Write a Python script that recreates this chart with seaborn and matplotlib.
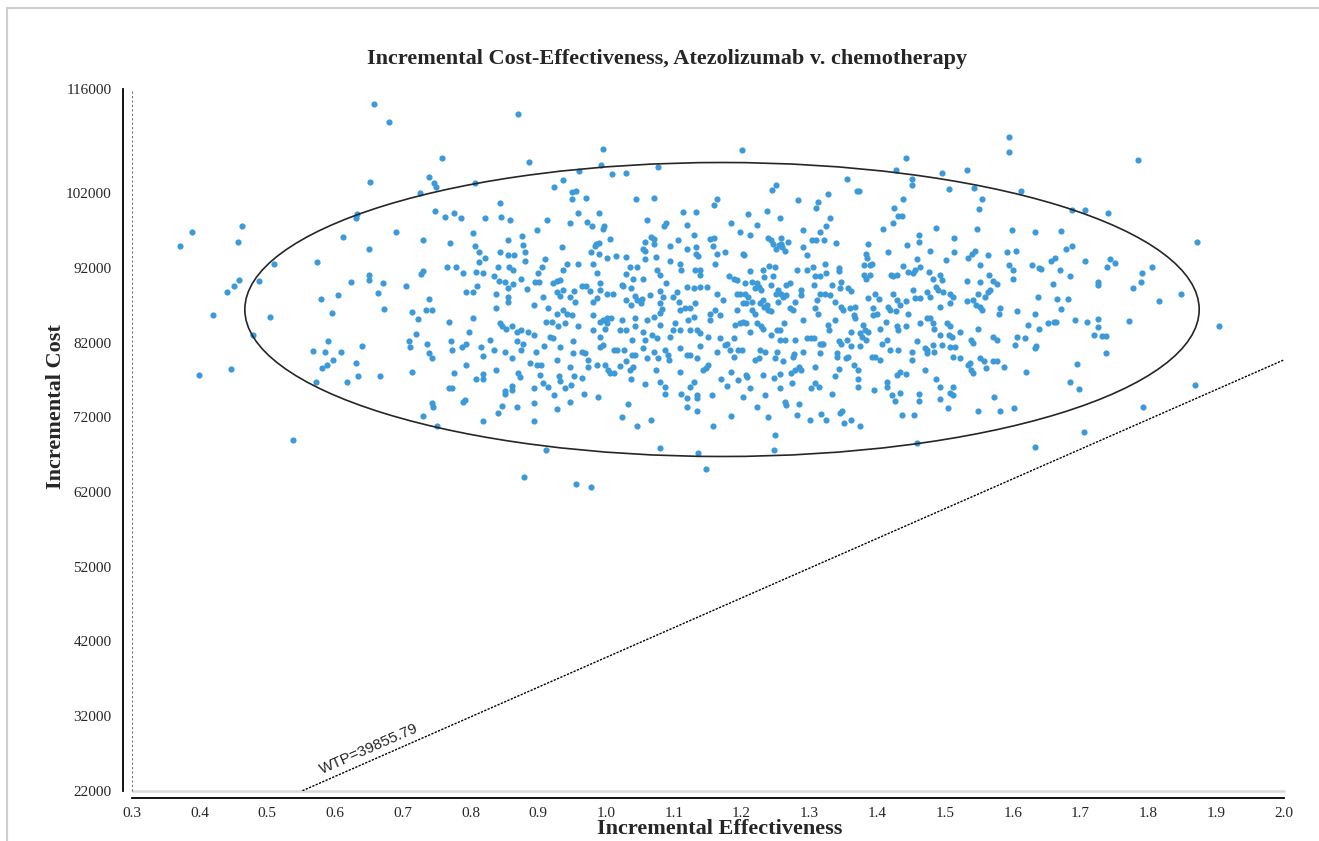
import numpy as np
import pandas as pd
import matplotlib
matplotlib.use('Agg')
import matplotlib.pyplot as plt
from matplotlib.patches import Ellipse
from matplotlib.lines import Line2D
import seaborn as sns

# simulated ICERs: (incremental effectiveness, incremental cost)
pts_left = [
    (0.658, 114000), (0.680, 111600), (0.758, 106700), (0.652, 103500), (0.738, 104200), (0.746, 103400),
    (0.749, 102900), (0.725, 102000), (0.632, 99300), (0.631, 98700), (0.747, 99700), (0.763, 98900),
    (0.776, 99400), (0.389, 96800), (0.463, 97700), (0.457, 95500), (0.371, 95000), (0.612, 96200),
    (0.690, 96900), (0.730, 95800), (0.770, 95400), (0.650, 94500), (0.510, 92600), (0.573, 92800),
    (0.766, 92200), (0.779, 92200), (0.459, 90400), (0.451, 89600), (0.440, 88800), (0.488, 90300),
    (0.420, 85700), (0.504, 85400), (0.479, 83000), (0.446, 78500), (0.400, 77700), (0.538, 69000),
    (0.650, 91100), (0.650, 90400), (0.623, 90100), (0.671, 90000), (0.663, 88700), (0.604, 88400),
    (0.580, 87800), (0.596, 86000), (0.672, 86500), (0.705, 89600), (0.727, 91200), (0.730, 91600),
    (0.738, 87900), (0.734, 86400), (0.743, 86400), (0.713, 86100), (0.723, 85200), (0.768, 84800),
    (0.720, 83200), (0.590, 82200), (0.567, 80900), (0.586, 80800), (0.609, 80800), (0.640, 81600),
    (0.709, 82200), (0.710, 81400), (0.736, 81900), (0.771, 82200), (0.773, 81000), (0.739, 80600),
    (0.743, 79900), (0.597, 79700), (0.588, 79000), (0.581, 78600), (0.631, 79300), (0.634, 77600),
    (0.666, 77600), (0.714, 78100), (0.776, 78000), (0.572, 76800), (0.617, 76700), (0.768, 75900),
    (0.773, 75900), (0.743, 73900), (0.744, 73400), (0.730, 72200), (0.751, 70800),
]

pts_upper_mid = [
    (0.870, 112700), (0.886, 106200), (0.996, 108000), (1.201, 107800), (0.960, 105000), (0.993, 105800),
    (1.008, 104600), (1.030, 104800), (1.076, 105600), (0.923, 102900), (0.937, 103800), (0.950, 102200),
    (0.955, 102400), (0.949, 101300), (0.971, 101400), (0.843, 100700), (1.044, 101200), (1.071, 101400),
    (1.159, 100400), (1.164, 101200), (0.821, 98700), (0.845, 98800), (0.858, 98500), (0.913, 98500),
    (0.958, 99400), (0.947, 98100), (0.972, 98200), (0.979, 97600), (0.990, 99400), (0.997, 97600),
    (0.995, 97200), (1.060, 98500), (1.113, 99500), (1.132, 99500), (1.088, 98100), (1.085, 97600),
    (1.119, 97800), (1.184, 98000), (0.876, 96300), (0.898, 97100), (0.856, 95800), (0.813, 94100),
    (0.821, 93400), (0.813, 92800), (0.843, 94100), (0.856, 93800), (0.864, 93800), (0.878, 95100),
    (0.880, 94100), (0.935, 94800), (0.983, 94900), (0.985, 95200), (0.990, 95400), (0.977, 94100),
    (0.990, 93900), (1.006, 95900), (1.001, 93400), (1.014, 93600), (1.058, 95500), (1.054, 94500),
    (1.058, 94300), (1.066, 96200), (1.071, 95900), (1.071, 95200), (1.095, 94900), (1.106, 95800),
    (1.130, 96500), (1.153, 95900), (1.159, 96100), (1.119, 94500), (1.133, 94800), (1.133, 93900),
    (1.135, 93600), (1.157, 94900), (1.164, 93900), (1.176, 94200), (1.197, 96800), (1.029, 93500),
    (1.073, 93500), (1.057, 93200), (0.910, 93200), (0.803, 96700), (0.807, 103400), (0.807, 95000),
    (0.786, 98700),
]

pts_mid_a = [
    (0.789, 91300), (0.808, 91500), (0.818, 91400), (0.840, 92200), (0.857, 92100), (0.863, 91800),
    (0.875, 90600), (0.881, 92900), (0.899, 91300), (0.905, 92100), (0.943, 92600), (0.958, 92600),
    (0.937, 91800), (0.932, 90400), (0.927, 90300), (0.980, 92500), (0.986, 91300), (0.991, 90000),
    (1.029, 91200), (1.035, 92100), (1.045, 92100), (1.040, 90600), (1.055, 90600), (1.075, 91800),
    (1.080, 91100), (1.089, 90000), (1.095, 92900), (1.109, 92600), (1.111, 91800), (1.131, 91800),
    (1.139, 91800), (1.138, 91100), (1.161, 92600), (1.182, 90900), (1.188, 90600), (1.193, 90400),
    (0.794, 88800), (0.803, 88800), (0.809, 89600), (0.834, 90900), (0.842, 90300), (0.851, 90100),
    (0.856, 89300), (0.863, 89900), (0.883, 89200), (0.895, 90200), (0.901, 90200), (0.907, 88200),
    (0.921, 90000), (0.927, 88800), (0.937, 89100), (0.932, 88300), (0.952, 89000), (0.947, 88200),
    (0.964, 89600), (0.970, 89600), (0.976, 89000), (0.991, 89100), (1.001, 88500), (1.010, 88500),
    (1.023, 89700), (1.025, 89600), (1.036, 89300), (1.043, 88300), (1.053, 87800), (1.065, 88400),
    (1.080, 89000), (1.084, 88200), (1.099, 88200), (1.104, 88800), (1.119, 89500), (1.129, 89300),
    (1.139, 89500), (1.149, 89500), (1.163, 88600), (1.173, 87700), (1.193, 88600),
]

pts_mid_b = [
    (0.838, 88500), (0.856, 88200), (0.856, 87500), (0.838, 86600), (0.893, 87100), (0.915, 86600),
    (0.927, 85900), (0.937, 86400), (0.942, 85900), (0.954, 87500), (0.949, 85700), (0.981, 87400),
    (0.980, 85700), (0.986, 88000), (0.996, 85100), (1.001, 85300), (0.991, 84800), (1.007, 85300),
    (1.023, 85100), (1.030, 87700), (1.037, 87100), (1.045, 87700), (1.043, 85300), (1.052, 87300),
    (1.060, 85100), (1.070, 85500), (1.080, 87300), (1.082, 86500), (1.080, 86000), (1.107, 87500),
    (1.109, 86400), (1.116, 86600), (1.124, 86600), (1.131, 87300), (1.121, 85100), (1.129, 85500),
    (1.153, 85900), (1.161, 86400), (1.168, 85700), (1.153, 85100), (1.193, 86400), (1.190, 84400),
    (0.804, 85300), (0.843, 84600), (0.846, 84300), (0.853, 83900), (0.861, 84200), (0.868, 83500),
    (0.875, 83700), (0.885, 83500), (0.893, 83000), (0.912, 84800), (0.920, 84800), (0.929, 84200),
    (0.939, 84600), (0.959, 84200), (0.981, 83700), (0.991, 82800), (0.998, 83900), (1.001, 84600),
    (0.991, 81500), (0.996, 81700), (1.020, 83700), (1.030, 83700), (1.043, 84200), (1.038, 82400),
    (1.054, 83500), (1.057, 82400), (1.067, 83000), (1.075, 82600), (1.080, 84400), (1.099, 83700),
    (1.102, 84600), (1.094, 82800), (1.109, 83700), (1.124, 83700), (1.134, 83700), (1.138, 83300),
    (1.151, 82800), (1.168, 82600), (1.178, 81900), (1.188, 82600),
]

pts_mid_c = [
    (0.787, 81500), (0.794, 81900), (0.798, 83400), (0.815, 81500), (0.818, 80200), (0.828, 82400),
    (0.835, 81100), (0.851, 80800), (0.861, 79900), (0.868, 82200), (0.874, 81000), (0.878, 81900),
    (0.888, 79300), (0.897, 80700), (0.898, 79000), (0.904, 79000), (0.908, 81600), (0.917, 82800),
    (0.922, 82600), (0.928, 79700), (0.932, 81500), (0.951, 82200), (0.951, 80600), (0.947, 78800),
    (0.965, 80800), (0.969, 80600), (0.974, 79700), (0.974, 78800), (0.986, 79000), (0.998, 79000),
    (1.006, 77900), (1.011, 77900), (1.011, 81100), (1.016, 81100), (1.027, 81000), (1.030, 79500),
    (1.038, 80400), (1.043, 80400), (1.040, 78800), (1.035, 78400), (1.055, 81300), (1.060, 79900),
    (1.070, 80800), (1.076, 79900), (1.087, 81000), (1.092, 80400), (1.093, 79700), (1.109, 81300),
    (1.119, 80400), (1.124, 80400), (1.134, 79900), (1.138, 81600), (1.151, 79000), (1.148, 78600),
    (1.143, 78400), (1.163, 80800), (1.175, 81700), (1.183, 81000), (1.188, 80100), (1.195, 81000),
    (0.794, 79000), (0.808, 77100), (0.819, 77100), (0.819, 77800), (0.838, 78400), (0.851, 75500),
    (0.851, 75100), (0.861, 75700), (0.861, 76200), (0.870, 78000), (0.873, 77400), (0.893, 76000),
    (0.902, 77700), (0.907, 76600), (0.915, 76100), (0.923, 75000), (0.931, 77500), (0.932, 76900),
    (0.940, 76000), (0.948, 76400), (0.953, 77500), (0.965, 77300), (0.968, 75200), (0.988, 74800),
    (1.003, 78400), (1.020, 78900), (1.036, 77100), (1.057, 76500), (1.073, 78400), (1.080, 76700),
    (1.087, 76100), (1.087, 75200), (1.109, 78100), (1.111, 75200), (1.119, 74600), (1.124, 76100),
    (1.129, 76700), (1.134, 75000), (1.134, 74600), (1.156, 75000), (1.169, 77200), (1.178, 76200),
    (1.185, 78100), (1.194, 77000),
]

pts_mid_low = [
    (0.789, 74100), (0.792, 74400), (0.819, 71500), (0.840, 72600), (0.847, 73600), (0.868, 73400),
    (0.894, 73900), (0.893, 71500), (0.927, 73100), (0.947, 74100), (1.033, 73800), (1.023, 72100),
    (1.046, 70800), (1.066, 71600), (1.119, 73400), (1.134, 72800), (1.158, 70800), (1.184, 72200),
    (0.912, 67600), (1.080, 67900), (1.135, 67200), (1.147, 65100), (0.879, 64000), (0.956, 63100),
    (0.978, 62700),
]

pts_right_a = [
    (1.212, 91600), (1.232, 91800), (1.241, 92300), (1.249, 92100), (1.246, 90900), (1.233, 90800),
    (1.205, 90000), (1.215, 90100), (1.222, 90000), (1.220, 89300), (1.225, 89500), (1.228, 89100),
    (1.244, 89700), (1.254, 89100), (1.258, 88600), (1.266, 89700), (1.271, 90000), (1.282, 91800),
    (1.296, 91800), (1.305, 92200), (1.308, 90900), (1.316, 90900), (1.323, 92600), (1.325, 91300),
    (1.343, 92000), (1.344, 91600), (1.333, 89700), (1.345, 89300), (1.347, 90200), (1.357, 89300),
    (1.362, 89000), (1.380, 92400), (1.389, 92400), (1.393, 92600), (1.380, 91100), (1.389, 91100),
    (1.384, 90600), (1.420, 91100), (1.429, 91100), (1.424, 90900), (1.438, 92300), (1.446, 91500),
    (1.453, 91300), (1.456, 91800), (1.463, 92200), (1.477, 91500), (1.483, 90600), (1.492, 91100),
    (1.495, 90400), (1.501, 93100), (1.532, 90300), (1.551, 90200), (1.552, 92400), (1.565, 91100),
    (1.571, 90300), (1.576, 89900), (1.595, 92400), (1.601, 91800), (1.600, 90600), (1.628, 92400),
    (1.638, 92000),
]

pts_right_b = [
    (1.198, 88600), (1.205, 88600), (1.210, 88200), (1.202, 87300), (1.207, 87300), (1.215, 87500),
    (1.215, 86400), (1.220, 85900), (1.227, 87300), (1.232, 87700), (1.233, 86800), (1.237, 87100),
    (1.239, 86400), (1.243, 86200), (1.251, 88600), (1.254, 87500), (1.261, 88200), (1.266, 88400),
    (1.271, 86600), (1.276, 86400), (1.279, 87500), (1.287, 89100), (1.288, 88400), (1.306, 89700),
    (1.311, 87700), (1.308, 86600), (1.312, 85900), (1.316, 88600), (1.323, 88600), (1.330, 88400),
    (1.338, 87500), (1.347, 86800), (1.350, 86400), (1.360, 86600), (1.367, 86800), (1.365, 85700),
    (1.367, 85300), (1.387, 88000), (1.397, 88600), (1.402, 87800), (1.394, 86600), (1.399, 85900),
    (1.416, 86800), (1.419, 86400), (1.424, 88600), (1.429, 87700), (1.428, 86200), (1.433, 87100),
    (1.443, 87600), (1.446, 85900), (1.453, 89100), (1.456, 88000), (1.463, 88000), (1.473, 88800),
    (1.478, 88200), (1.487, 89500), (1.490, 89100), (1.497, 88800), (1.493, 86800), (1.508, 88500),
    (1.512, 88200), (1.507, 87300), (1.532, 87600), (1.542, 87700), (1.548, 88600), (1.546, 87100),
    (1.552, 86800), (1.554, 86400), (1.559, 88200), (1.564, 88800), (1.567, 89100), (1.581, 86600),
    (1.580, 85900), (1.606, 86200), (1.633, 85900), (1.637, 88200),
]

pts_right_c = [
    (1.198, 84700), (1.202, 84800), (1.206, 84600), (1.212, 83500), (1.222, 84700), (1.228, 84200),
    (1.232, 83900), (1.244, 83000), (1.252, 83700), (1.257, 83700), (1.262, 84700), (1.257, 82400),
    (1.264, 82400), (1.279, 82400), (1.291, 85100), (1.296, 82600), (1.303, 82700), (1.306, 82700),
    (1.316, 81900), (1.320, 81800), (1.328, 84400), (1.329, 83700), (1.338, 85100), (1.344, 82200),
    (1.347, 81900), (1.355, 82400), (1.362, 83500), (1.375, 83300), (1.379, 84400), (1.382, 83700),
    (1.377, 82800), (1.384, 82400), (1.387, 83500), (1.394, 85700), (1.404, 83900), (1.407, 81900),
    (1.414, 82400), (1.413, 84800), (1.429, 84200), (1.431, 83700), (1.443, 84200), (1.463, 84600),
    (1.473, 85300), (1.478, 85300), (1.483, 84700), (1.484, 83900), (1.493, 83000), (1.503, 84700),
    (1.507, 84200), (1.506, 83000), (1.510, 82800), (1.522, 83500), (1.539, 82400), (1.542, 82000),
    (1.549, 83900), (1.571, 82800), (1.576, 82400), (1.606, 82800), (1.618, 82600), (1.623, 84400),
]

pts_right_d = [
    (1.200, 81000), (1.220, 79700), (1.225, 79900), (1.227, 81000), (1.234, 80800), (1.249, 79900),
    (1.252, 80800), (1.261, 79500), (1.276, 80100), (1.277, 80500), (1.291, 80800), (1.284, 78800),
    (1.279, 78400), (1.288, 78400), (1.308, 78800), (1.316, 80600), (1.318, 81800), (1.340, 80100),
    (1.340, 80600), (1.343, 78500), (1.354, 79900), (1.357, 80100), (1.365, 79000), (1.372, 78400),
    (1.362, 81600), (1.375, 81600), (1.392, 80100), (1.397, 80100), (1.404, 79700), (1.419, 81000),
    (1.431, 81000), (1.451, 80800), (1.452, 79700), (1.458, 82300), (1.470, 81300), (1.473, 81000),
    (1.473, 80600), (1.483, 81700), (1.484, 80800), (1.495, 81700), (1.508, 81500), (1.515, 81500),
    (1.512, 80100), (1.522, 79900), (1.537, 79300), (1.534, 79000), (1.551, 79900), (1.557, 79500),
    (1.561, 78600), (1.571, 79500), (1.576, 79500), (1.587, 78800), (1.603, 81700), (1.619, 78100),
    (1.633, 81300), (1.634, 81600),
]

pts_right_low = [
    (1.206, 77700), (1.208, 77400), (1.231, 77700), (1.247, 77300), (1.256, 77800), (1.256, 76000),
    (1.273, 78000), (1.274, 76600), (1.303, 76000), (1.308, 76600), (1.314, 76100), (1.337, 77500),
    (1.333, 75200), (1.371, 77200), (1.371, 76100), (1.395, 75700), (1.414, 76800), (1.414, 76100),
    (1.429, 77700), (1.433, 78100), (1.443, 77800), (1.434, 75300), (1.422, 75000), (1.426, 74200),
    (1.461, 75100), (1.461, 74200), (1.470, 78400), (1.487, 77200), (1.492, 76100), (1.493, 74500),
    (1.507, 75300), (1.512, 76100), (1.512, 75000), (1.505, 73200), (1.542, 77900), (1.539, 78400),
    (1.202, 74700), (1.212, 76000), (1.234, 75000), (1.223, 73400), (1.239, 72100), (1.264, 74100),
    (1.266, 73700), (1.285, 73800), (1.281, 72300), (1.301, 71700), (1.317, 72500), (1.324, 71700),
    (1.345, 72600), (1.348, 72900), (1.351, 71200), (1.362, 71700), (1.375, 70800), (1.436, 72300),
    (1.454, 72300), (1.458, 68600), (1.549, 72900), (1.572, 74800), (1.581, 72800), (1.602, 73200),
    (1.249, 69700), (1.247, 67700), (1.633, 68000),
]

pts_right_top = [
    (1.594, 109600), (1.594, 107600), (1.442, 106700), (1.427, 105100), (1.452, 104000), (1.451, 103100),
    (1.495, 104800), (1.532, 105200), (1.506, 102600), (1.543, 102800), (1.612, 102300), (1.355, 103900),
    (1.370, 102300), (1.373, 102300), (1.245, 102500), (1.250, 103100), (1.283, 101100), (1.312, 100900),
    (1.309, 100000), (1.328, 101900), (1.438, 101200), (1.425, 100000), (1.431, 99000), (1.436, 99000),
    (1.424, 98000), (1.555, 101300), (1.550, 99900), (1.210, 99300), (1.237, 99600), (1.256, 98700),
    (1.223, 97800), (1.212, 96500), (1.331, 98700), (1.325, 97600), (1.316, 96900), (1.291, 97100),
    (1.409, 97200), (1.486, 97400), (1.547, 97200), (1.599, 97100), (1.633, 96800), (1.239, 96100),
    (1.244, 95800), (1.246, 95200), (1.258, 96000), (1.258, 95300), (1.255, 95100), (1.260, 94800),
    (1.268, 95500), (1.250, 94500), (1.264, 94300), (1.304, 95800), (1.309, 95800), (1.322, 95800),
    (1.339, 95400), (1.291, 94800), (1.387, 95200), (1.383, 93900), (1.385, 93400), (1.462, 96400),
    (1.461, 95500), (1.444, 95100), (1.416, 94200), (1.478, 94300), (1.514, 96100), (1.514, 94100),
    (1.544, 94300), (1.540, 93900), (1.534, 93400), (1.564, 93700), (1.591, 94100), (1.604, 94300),
    (1.202, 93900), (1.204, 93800), (1.296, 93700), (1.459, 93200),
]

pts_far_right = [
    (1.784, 106500), (1.688, 99800), (1.706, 99800), (1.741, 99400), (1.872, 95500), (1.671, 97000),
    (1.679, 94600), (1.688, 94900), (1.656, 93000), (1.663, 93300), (1.641, 91900), (1.669, 91700),
    (1.685, 90900), (1.706, 92900), (1.739, 92200), (1.744, 93200), (1.751, 92700), (1.791, 91400),
    (1.805, 92200), (1.660, 89900), (1.725, 90200), (1.725, 89700), (1.789, 90200), (1.778, 89400),
    (1.848, 88500), (1.815, 87600), (1.904, 84300), (1.665, 87800), (1.682, 87800), (1.671, 86500),
    (1.652, 84700), (1.661, 84800), (1.664, 84800), (1.692, 85100), (1.709, 84800), (1.725, 85200),
    (1.725, 84100), (1.771, 84900), (1.720, 83000), (1.732, 82900), (1.738, 82900), (1.737, 80600),
    (1.695, 79200), (1.684, 76700), (1.698, 75800), (1.869, 76300), (1.792, 73400), (1.705, 70000),
    (1.639, 83800),
]

# confidence ellipse and willingness-to-pay line
ell_center = (1.171, 86460)
ell_width = 1.408
ell_height = 39380
wtp = 39855.79

x_ticks = [0.3, 0.4, 0.5, 0.6, 0.7, 0.8, 0.9, 1.0, 1.1, 1.2, 1.3, 1.4, 1.5, 1.6, 1.7, 1.8, 1.9, 2.0]
y_ticks = [22000, 32000, 42000, 52000, 62000, 72000, 82000, 92000, 102000, 116000]

all_pts = (pts_left + pts_upper_mid + pts_mid_a + pts_mid_b + pts_mid_c + pts_mid_low
           + pts_right_a + pts_right_b + pts_right_c + pts_right_d + pts_right_low
           + pts_right_top + pts_far_right)
df = pd.DataFrame(all_pts, columns=['eff', 'cost'])

sns.set_style('white')
plt.rcParams['font.family'] = ['Liberation Serif', 'DejaVu Serif']

fig = plt.figure(figsize=(13.19, 8.41), dpi=100)
ax = fig.add_axes([0.0998, 0.0598, 0.8736, 0.8344])

sns.scatterplot(data=df, x='eff', y='cost', color='#3c9ad9', s=20, linewidth=0, ax=ax, legend=False, zorder=3)

ax.add_patch(Ellipse(ell_center, ell_width, ell_height, fill=False, ec='#262626', lw=1.2, zorder=4))

x0 = 22000 / wtp
xs = np.array([x0, 2.0])
ax.plot(xs, wtp * xs, color='black', lw=1.0, ls=(0, (1.6, 1)), zorder=2)

ax.axhline(22000, color='#d9d9d9', lw=1.8, zorder=1, clip_on=False)
ax.axvline(0.3, color='#777777', lw=0.8, ls=(0, (2, 2)), zorder=1, clip_on=False)

ax.set_xlim(0.3, 2.0)
ax.set_ylim(22000, 116000)
ax.set_xticks(x_ticks)
ax.set_xticklabels([f'{t:.1f}' for t in x_ticks])
ax.set_yticks(y_ticks)
ax.set_yticklabels([str(t) for t in y_ticks])
ax.set_xlabel('')
ax.set_ylabel('')

for side in ['top', 'right']:
    ax.spines[side].set_visible(False)
ax.spines['left'].set_position(('outward', 6))
ax.spines['bottom'].set_position(('outward', 5))
for side in ['left', 'bottom']:
    ax.spines[side].set_color('black')
    ax.spines[side].set_linewidth(1.3)

ax.tick_params(axis='x', direction='in', length=5, width=1, color='#bdbdbd', labelsize=11, pad=7)
ax.tick_params(axis='y', direction='out', length=3.5, width=1, color='#bdbdbd', labelsize=11, pad=5)

# WTP label along the line
p1 = ax.transData.transform((x0, wtp * x0))
p2 = ax.transData.transform((2.0, wtp * 2.0))
ang = np.degrees(np.arctan2(p2[1] - p1[1], p2[0] - p1[0]))
ax.annotate('WTP=39855.79', xy=(0.580, wtp * 0.580), xytext=(1, 4), textcoords='offset points',
            rotation=ang, rotation_mode='anchor', ha='left', va='bottom',
            fontsize=11, family=['Liberation Sans', 'DejaVu Sans'])

fig.text(0.506, 0.930, 'Incremental Cost-Effectiveness, Atezolizumab v. chemotherapy',
         ha='center', va='center', fontsize=16, fontweight='bold')
fig.text(0.546, 0.0140, 'Incremental Effectiveness', ha='center', va='center', fontsize=16, fontweight='bold')
fig.text(0.0425, 0.517, 'Incremental Cost', ha='center', va='center', rotation=90, fontsize=16, fontweight='bold')

# light frame round the picture
fig.add_artist(Line2D([7 / 1319, 7 / 1319], [0, 1 - 8 / 841], color='#cfcfcf', lw=1.5))
fig.add_artist(Line2D([7 / 1319, 1], [1 - 8 / 841, 1 - 8 / 841], color='#cfcfcf', lw=1.5))

fig.savefig('out.png', dpi=100)
